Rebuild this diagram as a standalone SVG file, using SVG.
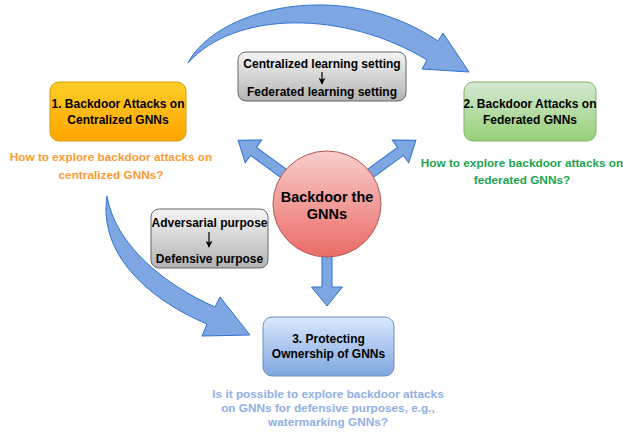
<svg xmlns="http://www.w3.org/2000/svg" width="623" height="433" viewBox="0 0 623 433">
  <defs>
    <linearGradient id="gOrange" x1="0" y1="0" x2="0" y2="1">
      <stop offset="0" stop-color="#ffcd28"/>
      <stop offset="1" stop-color="#ffa500"/>
    </linearGradient>
    <linearGradient id="gGreen" x1="0" y1="0" x2="0" y2="1">
      <stop offset="0" stop-color="#d5e8d4"/>
      <stop offset="1" stop-color="#97d077"/>
    </linearGradient>
    <linearGradient id="gBlue" x1="0" y1="0" x2="0" y2="1">
      <stop offset="0" stop-color="#dae8fc"/>
      <stop offset="1" stop-color="#7ea6e0"/>
    </linearGradient>
    <linearGradient id="gRed" x1="0" y1="0" x2="0" y2="1">
      <stop offset="0" stop-color="#f8cecc"/>
      <stop offset="1" stop-color="#ea6b66"/>
    </linearGradient>
    <linearGradient id="gGray" x1="0" y1="0" x2="0" y2="1">
      <stop offset="0" stop-color="#f5f5f5"/>
      <stop offset="1" stop-color="#b3b3b3"/>
    </linearGradient>
    <marker id="tip" viewBox="0 0 10 10" refX="9" refY="5" markerWidth="7" markerHeight="7" orient="auto" markerUnits="userSpaceOnUse">
      <path d="M0,0 L10,5 L0,10 L3,5 Z" fill="#000"/>
    </marker>
  </defs>
  <style>
    text { font-family: "Liberation Sans", Arial, sans-serif; font-weight: bold; text-anchor: middle; }
    .lbl { font-size: 12px; fill: #000; }
    .note { font-size: 12px; fill: #000; }
    .big { font-size: 14.5px; fill: #000; }
    .q { font-size: 11.8px; }
    .flow { fill: #7ea6e0; stroke: #2f73d1; stroke-width: 1; stroke-linejoin: miter; }
    .step { stroke: #000; stroke-width: 1.2; fill: none; }
  </style>

  <rect width="623" height="433" fill="#ffffff"/>

  <!-- connectors: curved and straight block arrows -->
  <g id="connectors">
    <!-- curved arrow: centralized -> federated -->
    <path class="flow" d="M188,63 C215,10 340,-25 438,41 L443,33 L469,72 L422,69 L427,60 C345,10 235,10 188,63 Z"/>
    <!-- curved arrow: centralized -> ownership protection -->
    <path class="flow" d="M107,196 C98,255 150,300 207,324 L202,336 L250,335 L220,297 L215,307 C165,285 115,245 107,196 Z"/>
    <!-- straight arrows out of the central circle -->
    <path class="flow" transform="translate(327,205) rotate(216.1)" d="M0,-5 L91,-5 L91,-14 L110,0 L91,14 L91,5 L0,5 Z"/>
    <path class="flow" transform="translate(327,205) rotate(-36.1)" d="M0,-5 L91,-5 L91,-14 L110,0 L91,14 L91,5 L0,5 Z"/>
    <path class="flow" transform="translate(327,205) rotate(90)" d="M0,-5 L82,-5 L82,-15.5 L101,0 L82,15.5 L82,5 L0,5 Z"/>
  </g>

  <!-- 1. centralized GNNs -->
  <g id="node-centralized">
    <rect x="50" y="82" width="136" height="59" rx="9" fill="url(#gOrange)" stroke="#d79b00"/>
    <text class="lbl" x="118" y="108">1. Backdoor Attacks on</text>
    <text class="lbl" x="118" y="124">Centralized GNNs</text>
  </g>
  <g id="q-centralized">
    <text class="q" x="111" y="161" fill="#ff9a33">How to explore backdoor attacks on</text>
    <text class="q" x="111" y="179" fill="#ff9a33">centralized GNNs?</text>
  </g>

  <!-- 2. federated GNNs -->
  <g id="node-federated">
    <rect x="464" y="82" width="132" height="59" rx="9" fill="url(#gGreen)" stroke="#82b366"/>
    <text class="lbl" x="530" y="108">2. Backdoor Attacks on</text>
    <text class="lbl" x="530" y="124">Federated GNNs</text>
  </g>
  <g id="q-federated">
    <text class="q" x="522" y="167" fill="#1ca34f">How to explore backdoor attacks on</text>
    <text class="q" x="522" y="184" fill="#1ca34f">federated GNNs?</text>
  </g>

  <!-- setting shift note -->
  <g id="note-setting">
    <rect x="238" y="52" width="168" height="49" rx="8" fill="url(#gGray)" stroke="#666666"/>
    <text class="note" x="322" y="67.5">Centralized learning setting</text>
    <line class="step" x1="322" y1="72" x2="322" y2="84" marker-end="url(#tip)"/>
    <text class="note" x="322" y="95.5">Federated learning setting</text>
  </g>

  <!-- purpose shift note -->
  <g id="note-purpose">
    <rect x="151" y="209" width="117" height="59" rx="8" fill="url(#gGray)" stroke="#666666"/>
    <text class="note" x="209.5" y="226.5">Adversarial purpose</text>
    <line class="step" x1="209" y1="232" x2="209" y2="247" marker-end="url(#tip)"/>
    <text class="note" x="209.5" y="262.5">Defensive purpose</text>
  </g>

  <!-- central topic -->
  <g id="node-center">
    <ellipse cx="327" cy="204" rx="54" ry="53" fill="url(#gRed)" stroke="#b85450"/>
    <text class="big" x="327" y="202">Backdoor the</text>
    <text class="big" x="327" y="219">GNNs</text>
  </g>

  <!-- 3. protecting ownership -->
  <g id="node-ownership">
    <rect x="263" y="317" width="131" height="59" rx="9" fill="url(#gBlue)" stroke="#6c8ebf"/>
    <text class="lbl" x="328.5" y="343">3. Protecting</text>
    <text class="lbl" x="328.5" y="358">Ownership of GNNs</text>
  </g>
  <g id="q-ownership">
    <text class="q" x="328" y="398" fill="#8fb0e6">Is it possible to explore backdoor attacks</text>
    <text class="q" x="328" y="412" fill="#8fb0e6">on GNNs for defensive purposes, e.g.,</text>
    <text class="q" x="328" y="426" fill="#8fb0e6">watermarking GNNs?</text>
  </g>
</svg>
